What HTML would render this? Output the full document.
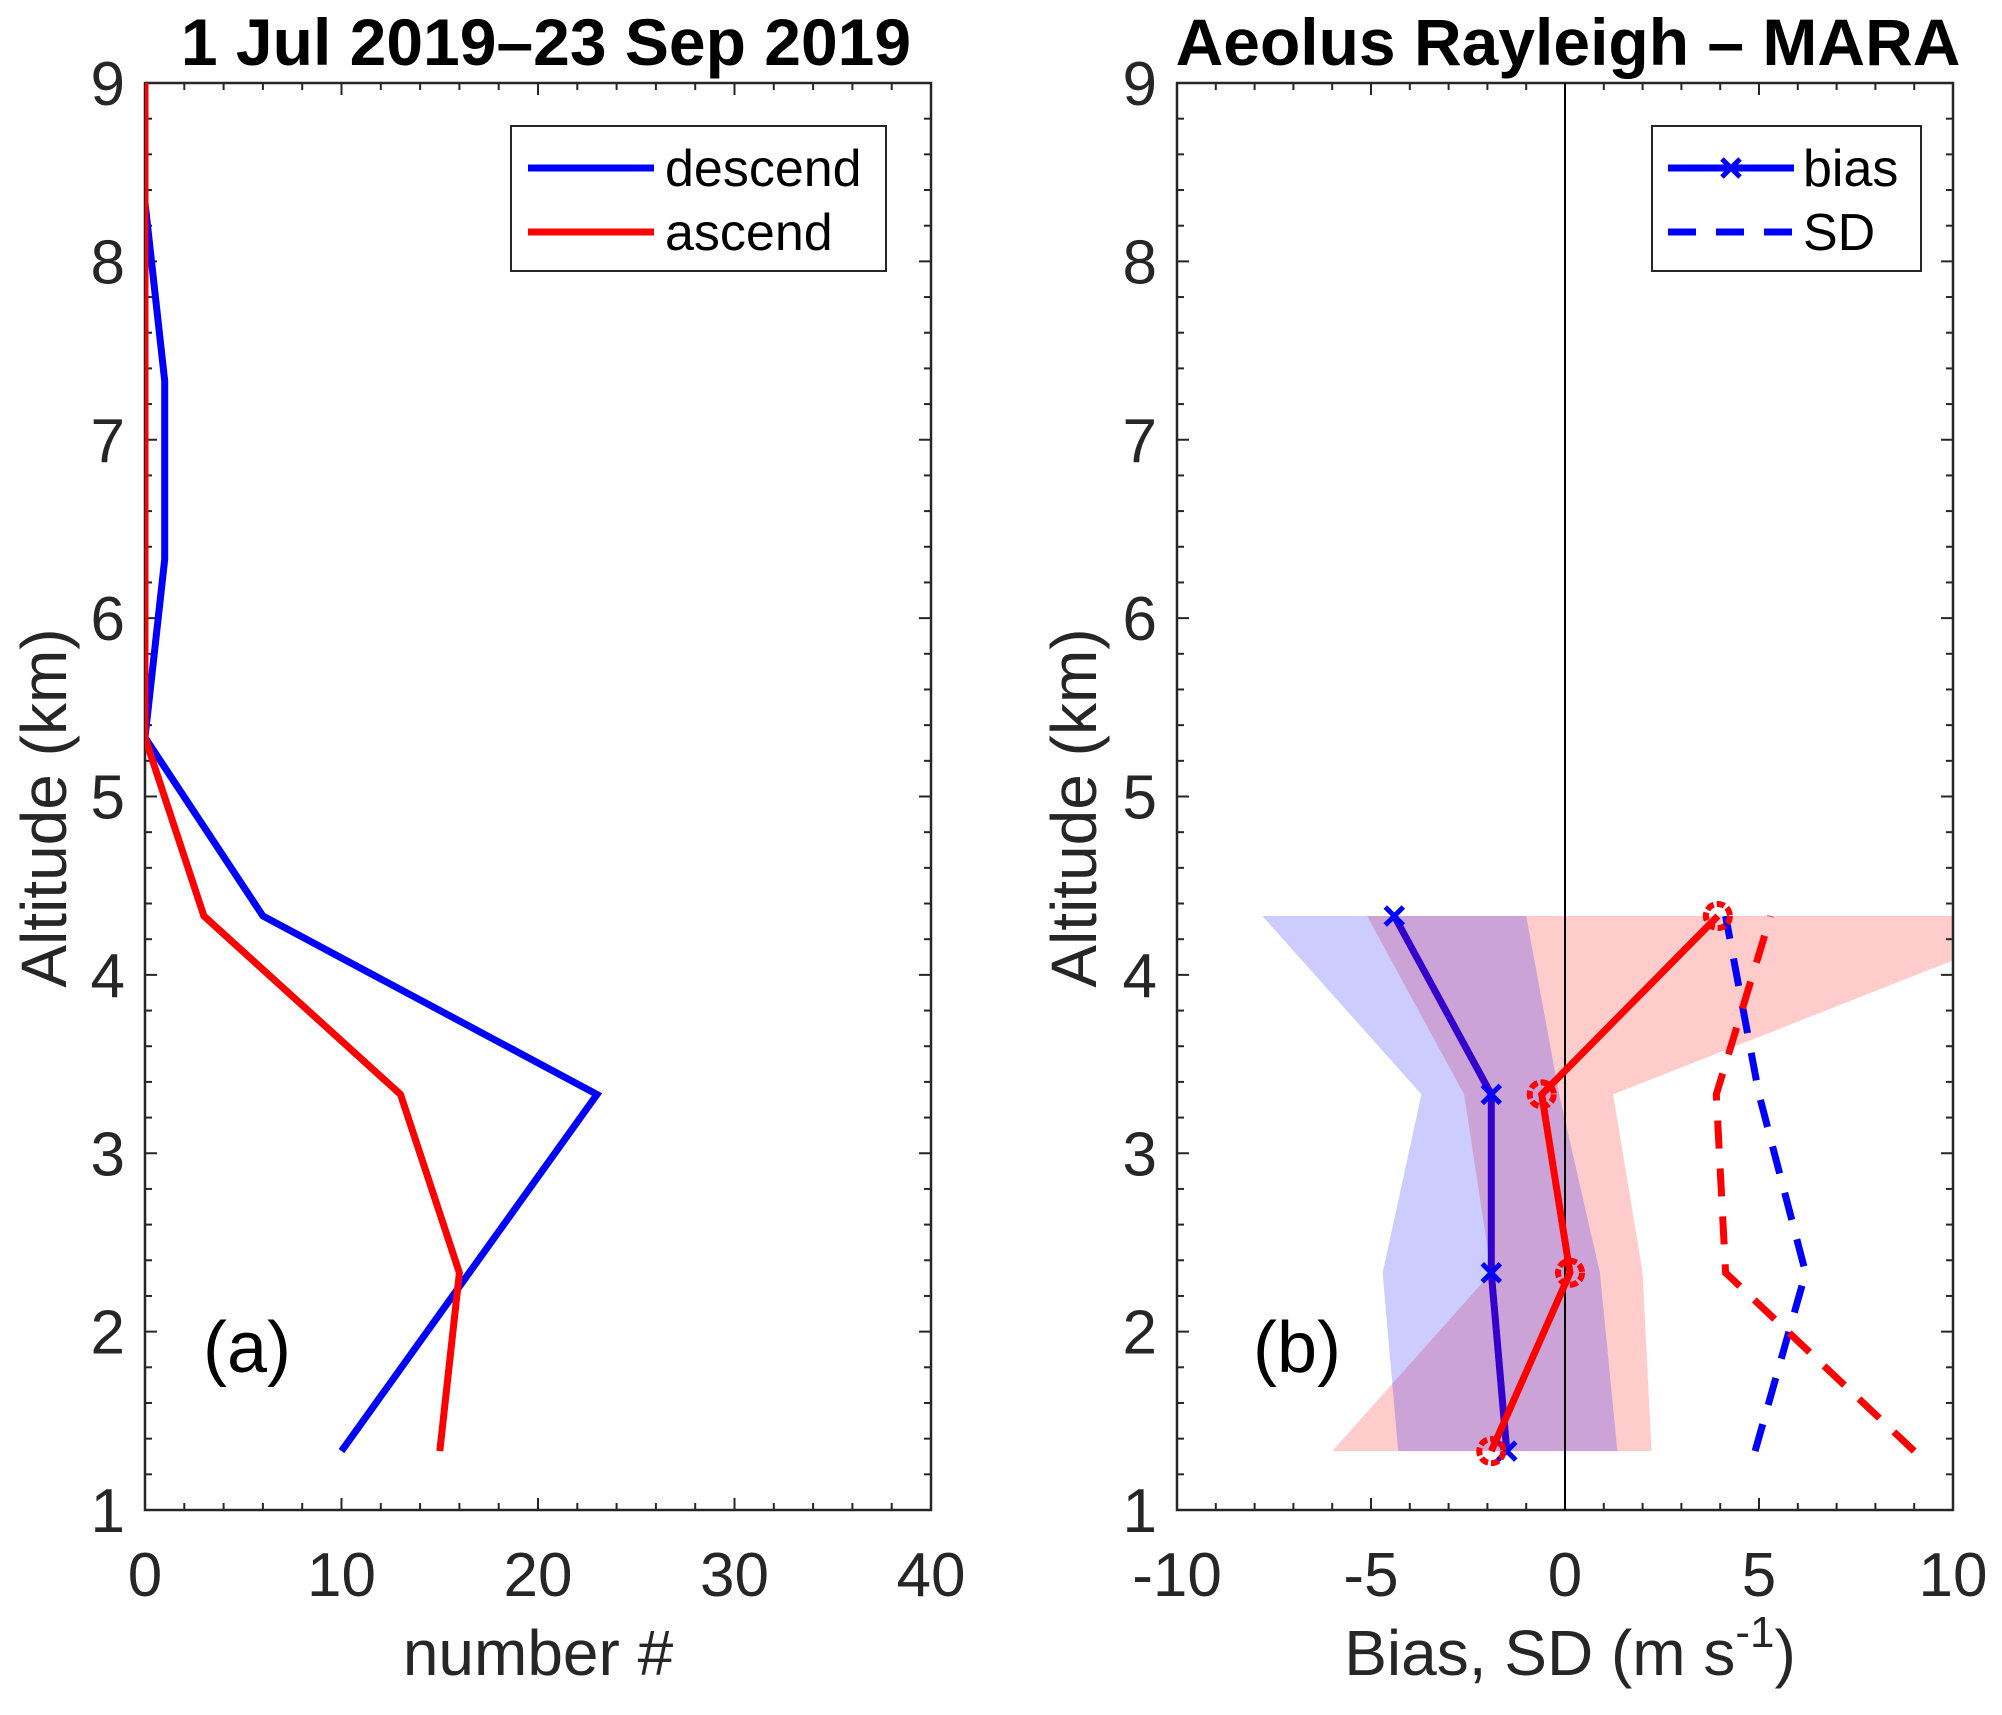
<!DOCTYPE html>
<html><head><meta charset="utf-8"><style>
html,body{margin:0;padding:0;background:#fff}
svg{display:block;font-family:"Liberation Sans",Arial,sans-serif}
</style></head><body>
<svg id="fig" width="2002" height="1715" viewBox="0 0 2002 1715" xmlns="http://www.w3.org/2000/svg"></svg>
<script>
const levels=[1.33,2.33,3.33,4.33,5.33,6.33,7.33,8.33,9];
const descendCount=[10,16.5,23,6,0,1,1,0,0];
const ascendCount=[15,16,13,3,0,0,0,0,0];
const bLevels=[1.33,2.33,3.33,4.33];
const blueBias=[-1.5,-1.9,-1.9,-4.4];
const blueSD=[4.9,6.2,5.0,4.14];
const redBias=[-1.9,0.13,-0.6,3.94];
const redSD=[9.0,4.14,3.9,5.3];
const blueLo=[-4.3,-4.7,-3.7,-7.8];
const blueHi=[1.35,0.9,-0.15,-1.0];
const redLo=[-6.0,-1.9,-2.6,-5.1];
const redHi=[2.23,2.0,1.24,12.9];
const xTicksA=[0,10,20,30,40];
const xTicksB=[-10,-5,0,5,10];
const yTicks=[1,2,3,4,5,6,7,8,9];

const NS="http://www.w3.org/2000/svg";
const svg=document.getElementById('fig');
function mk(tag,attrs,parent){const e=document.createElementNS(NS,tag);for(const k in attrs)e.setAttribute(k,attrs[k]);(parent||svg).appendChild(e);return e;}
const top_=83,bot=1510;
function Y(v){return bot-(v-1)/8*(bot-top_);}
function axA(v){return 145+v/40*(931-145);}
function axB(v){return 1177+(v+10)/20*(1953-1177);}

function clip(id,x0,x1){const d=mk('defs',{});const c=mk('clipPath',{id:id},d);mk('rect',{x:x0,y:top_,width:x1-x0,height:bot-top_},c);}
clip('ca',145,931);clip('cb',1177,1953);

function frame(name,x0,x1,X,xt,minorStep,xmin,xmax){
  const g=mk('g',{});
  
  
  for(let v=1;v<=9.001;v+=0.2){const y=Y(v);const major=Math.abs(v-Math.round(v))<0.01;const L=major?12:7;
    mk('line',{x1:x0,y1:y,x2:x0+L,y2:y,stroke:'#262626','stroke-width':2},g);
    mk('line',{x1:x1,y1:y,x2:x1-L,y2:y,stroke:'#262626','stroke-width':2},g);}
  for(let v=xmin;v<=xmax+0.001;v+=minorStep){const x=X(v);const major=xt.some(t=>Math.abs(t-v)<0.01);const L=major?12:7;
    mk('line',{x1:x,y1:bot,x2:x,y2:bot-L,stroke:'#262626','stroke-width':2},g);
    mk('line',{x1:x,y1:top_,x2:x,y2:top_+L,stroke:'#262626','stroke-width':2},g);}
  mk('rect',{x:x0,y:top_,width:x1-x0,height:bot-top_,fill:'none',stroke:'#262626','stroke-width':2.5},g);
  yTicks.forEach(t=>{const e=mk('text',{x:x0-20,y:Y(t)+22,'text-anchor':'end','font-size':62,fill:'#262626'},g);e.textContent=t;
    });
  xt.forEach(t=>{const e=mk('text',{x:X(t),y:bot+86,'text-anchor':'middle','font-size':62,fill:'#262626'},g);e.textContent=t;
    });
}
function line(xs,ys,X,attrs,name,clipId){
  const p=xs.map((v,i)=>X(v).toFixed(1)+','+Y(ys[i]).toFixed(1)).join(' ');
  const e=mk('polyline',Object.assign({points:p,fill:'none','stroke-linejoin':'miter','clip-path':'url(#'+clipId+')'},attrs));
  
  
  return e;
}
function band(lo,hi,color,name){
  const pts=[];bLevels.forEach((l,i)=>pts.push(axB(lo[i])+','+Y(l)));
  for(let i=bLevels.length-1;i>=0;i--)pts.push(axB(hi[i])+','+Y(bLevels[i]));
  const e=mk('polygon',{points:pts.join(' '),fill:color,'fill-opacity':0.2,'clip-path':'url(#cb)'});
  
  
}

frame('panel-a',145,931,axA,xTicksA,2,0,40);
line(descendCount,levels,axA,{stroke:'#0000ff','stroke-width':7},'descend-line','ca');
line(ascendCount,levels,axA,{stroke:'#ff0000','stroke-width':7},'ascend-line','ca');

band(redLo,redHi,'#ff0000','ascend-range-band');
band(blueLo,blueHi,'#0000ff','descend-range-band');
frame('panel-b',1177,1953,axB,xTicksB,1,-10,10);
const zl=mk('line',{x1:axB(0),y1:top_,x2:axB(0),y2:bot,stroke:'#000','stroke-width':2});


line(blueSD,bLevels,axB,{stroke:'#0000ff','stroke-width':7,'stroke-dasharray':'28,20'},'descend-sd-line','cb');
line(redSD,bLevels,axB,{stroke:'#ff0000','stroke-width':7,'stroke-dasharray':'28,20'},'ascend-sd-line','cb');
line(blueBias,bLevels,axB,{stroke:'#3300cc','stroke-width':7},'descend-bias-line','cb');
blueBias.forEach((v,i)=>{const x=axB(v),y=Y(bLevels[i]);
  const g=mk('path',{d:`M${x-9},${y-9}L${x+9},${y+9}M${x-9},${y+9}L${x+9},${y-9}`,stroke:'#0000ff','stroke-width':5});
  });
line(redBias,bLevels,axB,{stroke:'#ff0000','stroke-width':7},'ascend-bias-line','cb');
redBias.forEach((v,i)=>{const c=mk('circle',{cx:axB(v),cy:Y(bLevels[i]),r:12,fill:'none',stroke:'#ff0000','stroke-width':6,'stroke-dasharray':'8,3'});
  });
</script>
<div style="position:absolute;left:0;top:0;width:2002px;height:1715px;pointer-events:none">
<svg width="2002" height="1715" style="position:absolute;left:0;top:0" font-family="Liberation Sans, Arial, sans-serif">
  <text x="546" y="65" text-anchor="middle" font-size="66" font-weight="bold" fill="#000">1 Jul 2019–23 Sep 2019</text>
  <text x="1568" y="65" text-anchor="middle" font-size="66" font-weight="bold" fill="#000">Aeolus Rayleigh – MARA</text>
  <text transform="translate(66,808) rotate(-90)" text-anchor="middle" font-size="64" fill="#262626">Altitude (km)</text>
  <text transform="translate(1096,808) rotate(-90)" text-anchor="middle" font-size="64" fill="#262626">Altitude (km)</text>
  <text x="538" y="1675" text-anchor="middle" font-size="64" fill="#262626">number #</text>
  <text x="1570" y="1675" text-anchor="middle" font-size="64" fill="#262626">Bias, SD (m s<tspan dy="-28" font-size="44">-1</tspan><tspan dy="28">)</tspan></text>
  <text x="203" y="1372" font-size="72" fill="#000">(a)</text>
  <text x="1253" y="1372" font-size="72" fill="#000">(b)</text>
  <g>
    <rect x="511" y="126" width="375" height="145" fill="#fff" stroke="#262626" stroke-width="2"/>
    <line x1="528" y1="168" x2="654" y2="168" stroke="#0000ff" stroke-width="7"/>
    <text x="665" y="186" font-size="52" fill="#000">descend</text>
    <line x1="528" y1="232" x2="654" y2="232" stroke="#ff0000" stroke-width="7"/>
    <text x="665" y="250" font-size="52" fill="#000">ascend</text>
  </g>
  <g>
    <rect x="1652" y="126" width="269" height="145" fill="#fff" stroke="#262626" stroke-width="2"/>
    <line x1="1668" y1="168" x2="1794" y2="168" stroke="#0000ff" stroke-width="7"/>
    <path d="M1722,159L1740,177M1722,177L1740,159" stroke="#0000ff" stroke-width="5"/>
    <text x="1803" y="186" font-size="52" fill="#000">bias</text>
    <line x1="1668" y1="232" x2="1794" y2="232" stroke="#0000ff" stroke-width="7" stroke-dasharray="28,20"/>
    <text x="1803" y="250" font-size="52" fill="#000">SD</text>
  </g>
</svg>
</div>
</body></html>
